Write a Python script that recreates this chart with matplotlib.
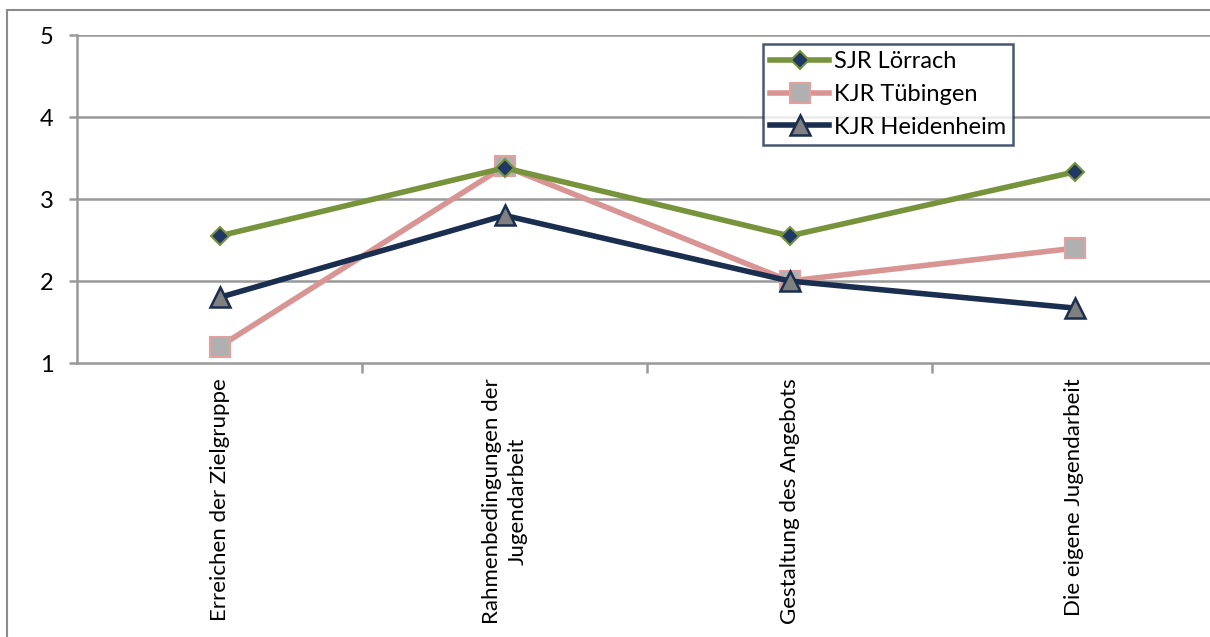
import matplotlib
matplotlib.use("Agg")
import matplotlib.pyplot as plt
from matplotlib.patches import Rectangle

categories = ["Erreichen der Zielgruppe",
              "Rahmenbedingungen der\nJugendarbeit",
              "Gestaltung des Angebots",
              "Die eigene Jugendarbeit"]
series_names = ["SJR Lörrach", "KJR Tübingen", "KJR Heidenheim"]
loerrach = [2.55, 3.38, 2.55, 3.33]
tuebingen = [1.2, 3.4, 2.0, 2.4]
heidenheim = [1.8, 2.8, 2.0, 1.67]
y_ticks = [1, 2, 3, 4, 5]

plt.rcParams['font.family'] = ['Lato', 'DejaVu Sans']

W, H = 1210, 637
fig = plt.figure(figsize=(W / 100, H / 100), dpi=100)

# outer chart frame (extends past the right and bottom edges)
fig.patches.append(Rectangle((7 / W, -0.1), 1.2, 1 - 10 / H + 0.1,
                             transform=fig.transFigure, fill=False,
                             edgecolor="#8c8c8c", linewidth=1.5, zorder=0))

left, right, top, bottom = 77, 1217, 35, 363
ax = fig.add_axes([left / W, 1 - bottom / H, (right - left) / W, (bottom - top) / H])

x = list(range(len(categories)))
ax.set_xlim(-0.5, len(categories) - 0.5)
ax.set_ylim(1, 5)

grid_c = "#999999"
for yv in y_ticks[1:]:
    ax.axhline(yv, color=grid_c, linewidth=1.8, zorder=1)

for s in ["top", "right"]:
    ax.spines[s].set_visible(False)
for s in ["left", "bottom"]:
    ax.spines[s].set_color(grid_c)
    ax.spines[s].set_linewidth(1.8)

ax.set_yticks(y_ticks)
ax.set_yticklabels([str(v) for v in y_ticks], fontsize=17)
ax.tick_params(axis="y", length=5.8, width=1.8, color=grid_c, pad=11)

# category boundaries carry the tick marks; labels sit at the centres
ax.set_xticks([i + 0.5 for i in x[:-1]])
ax.set_xticklabels([])
ax.tick_params(axis="x", length=7, width=1.8, color=grid_c)
for i, lab in enumerate(categories):
    ax.text(i, 1 - 15 / 82, lab, rotation=90, ha="center", va="top",
            fontsize=16, linespacing=1.35, multialignment="center",
            clip_on=False)

ax.plot(x, loerrach, color="#77933C", linewidth=4, marker="D", markersize=9,
        markerfacecolor="#1F3864", markeredgecolor="#77933C", markeredgewidth=1.5,
        label=series_names[0], zorder=4)
ax.plot(x, tuebingen, color="#D99594", linewidth=4, marker="s", markersize=14,
        markerfacecolor="#B0B0B0", markeredgecolor="#E3A09F", markeredgewidth=1.5,
        label=series_names[1], zorder=3)
ax.plot(x, heidenheim, color="#1A2E4F", linewidth=4, marker="^", markersize=15,
        markerfacecolor="#808080", markeredgecolor="#1A2E4F", markeredgewidth=1.8,
        label=series_names[2], zorder=5)

leg = ax.legend(loc="upper left",
                bbox_to_anchor=((763 - left) / (right - left), 1 - (44 - top) / (bottom - top)),
                fontsize=17, frameon=True, fancybox=False, handlelength=2.5,
                handletextpad=0.2, borderpad=0.3, labelspacing=0.5, borderaxespad=0)
leg.get_frame().set_edgecolor("#1A2E4F")
leg.get_frame().set_linewidth(1.8)

fig.savefig("out.png", dpi=100)
